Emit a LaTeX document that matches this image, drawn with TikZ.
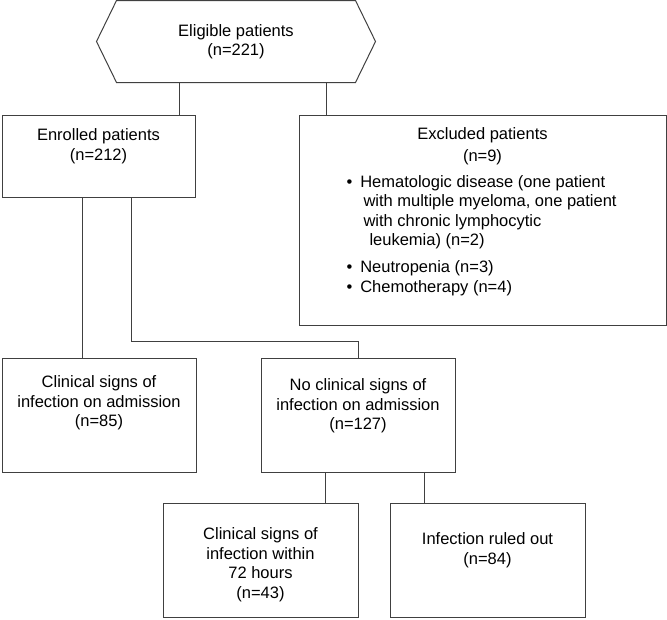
\documentclass[tikz,border=0pt]{standalone}
\usepackage{fontspec}
\setmainfont{Liberation Sans}
\usetikzlibrary{positioning}
\begin{document}
\begin{tikzpicture}[x=1pt, y=-1pt, line width=1pt,
  line/.style={draw=black!75},
  box/.style={draw=black!75, inner sep=0pt},
  txt/.style={align=center, inner sep=0pt, font=\fontsize{16.5}{19.5}\selectfont}]
\useasboundingbox (0,0) rectangle (667,619);
\node[txt, minimum width=238pt, minimum height=81pt] (P_0_0) at (236,41.5) {Eligible patients\\(n=221)};
\draw[line] (P_0_0.north west) -- (P_0_0.north east) -- ([xshift=20pt]P_0_0.east) -- (P_0_0.south east) -- (P_0_0.south west) -- ([xshift=-20pt]P_0_0.west) -- cycle;
\node[box, minimum width=193pt, minimum height=82pt] (P_1_0) at (98.5,156) {};
\node[txt, below=14pt of P_1_0.north] (L_1_0) {Enrolled patients\\(n=212)};
\draw[line] ([xshift=-57pt]P_0_0.south) -- ([xshift=-57pt]P_0_0.south |- P_1_0.north);
\node[box, minimum width=367pt, minimum height=210pt] (P_1_1) at (482.5,220) {};
\node[txt, below=13pt of P_1_1.north] (L_1_1) {Excluded patients\\[2.5pt](n=9)};
\node[txt, align=left, anchor=north west] (B_1_1) at (346,175) {%
•\hspace{8pt}Hematologic disease (one patient\\
\hspace*{17pt}with multiple myeloma, one patient\\
\hspace*{17pt}with chronic lymphocytic\\
\hspace*{23pt}leukemia) (n=2)\\[7.5pt]
•\hspace{8pt}Neutropenia (n=3)\\
•\hspace{8pt}Chemotherapy (n=4)};
\draw[line] ([xshift=90pt]P_0_0.south) -- ([xshift=90pt]P_0_0.south |- P_1_1.north);
\node[box, minimum width=194pt, minimum height=114pt] (P_2_0) at (99,415) {};
\node[txt, below=18pt of P_2_0.north] (L_2_0) {Clinical signs of\\infection on admission\\(n=85)};
\draw[line] ([xshift=-16.5pt]P_1_0.south) -- ([xshift=-16.5pt]P_1_0.south |- P_2_0.north);
\node[box, minimum width=194pt, minimum height=114pt] (P_2_1) at (358,415) {};
\node[txt, below=21pt of P_2_1.north] (L_2_1) {No clinical signs of\\infection on admission\\(n=127)};
\draw[line] ([xshift=32.5pt]P_1_0.south) |- ([yshift=16pt]P_2_1.north) -- (P_2_1.north);
\node[box, minimum width=195pt, minimum height=114pt] (P_3_0) at (260.5,560) {};
\node[txt, below=25pt of P_3_0.north] (L_3_0) {Clinical signs of\\infection within\\72 hours\\(n=43)};
\draw[line] ([xshift=-33pt]P_2_1.south) -- ([xshift=-33pt]P_2_1.south |- P_3_0.north);
\node[box, minimum width=195pt, minimum height=114pt] (P_3_1) at (487.5,560) {};
\node[txt, below=30pt of P_3_1.north] (L_3_1) {Infection ruled out\\(n=84)};
\draw[line] ([xshift=66pt]P_2_1.south) -- ([xshift=66pt]P_2_1.south |- P_3_1.north);
\end{tikzpicture}
\end{document}
